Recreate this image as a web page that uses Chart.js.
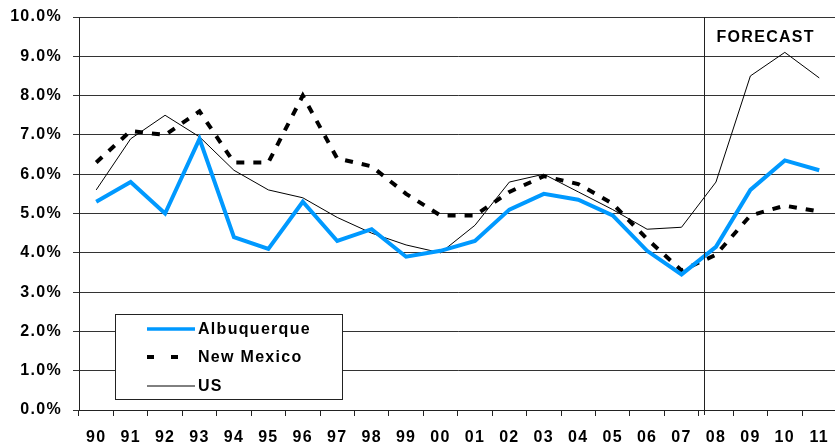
<!DOCTYPE html>
<html>
<head>
<meta charset="utf-8">
<script src="https://cdn.jsdelivr.net/npm/chart.js@4/dist/chart.umd.min.js"></script>
<style>
  html, body { margin: 0; padding: 0; background: #fff; overflow: hidden; }
  #wrap { position: relative; width: 841px; height: 448px; }
</style>
</head>
<body>
<div id="wrap"><canvas id="chartCanvas"></canvas></div>
<script>
// 年份（類別）
var years = ['90', '91', '92', '93', '94', '95', '96', '97', '98', '99', '00',
             '01', '02', '03', '04', '05', '06', '07', '08', '09', '10', '11'];

// 失業率 (%)
var albuquerque = [5.3, 5.8, 5.0, 6.9, 4.4, 4.1, 5.3, 4.3, 4.6, 3.9, 4.05,
                   4.3, 5.1, 5.5, 5.35, 4.95, 4.05, 3.45, 4.15, 5.6, 6.35, 6.1];
var newMexico   = [6.3, 7.1, 7.0, 7.6, 6.3, 6.3, 8.0, 6.4, 6.2, 5.5, 4.95,
                   4.95, 5.55, 5.95, 5.75, 5.25, 4.35, 3.55, 3.95, 4.95, 5.2, 5.05];
var us          = [5.6, 6.9, 7.5, 6.95, 6.1, 5.6, 5.4, 4.9, 4.5, 4.2, 4.0,
                   4.7, 5.8, 6.0, 5.55, 5.1, 4.6, 4.65, 5.8, 8.5, 9.1, 8.45];

var yTicks = [0, 1, 2, 3, 4, 5, 6, 7, 8, 9, 10];
var forecastAt = 17.66;   // 07 與 08 之間
var forecastLabel = 'FORECAST';

var FONT = 'Liberation Sans, Arial, sans-serif';
var SPACING = '1.3px';

function setSpacing(chart) {
  if ('letterSpacing' in chart.ctx) chart.ctx.letterSpacing = SPACING;
}

// 字距 + 預測線 + 圖例
var decorPlugin = {
  id: 'decor',
  beforeLayout: function(chart) { setSpacing(chart); },
  beforeDraw: function(chart) { setSpacing(chart); },
  afterDraw: function(chart) {
    var ctx = chart.ctx;
    var area = chart.chartArea;
    var xs = chart.scales.x;
    var i0 = Math.floor(forecastAt);
    var p0 = xs.getPixelForValue(i0);
    var p1 = xs.getPixelForValue(i0 + 1);
    var fx = Math.round(p0 + (p1 - p0) * (forecastAt - i0)) + 0.5;

    ctx.save();
    setSpacing(chart);
    ctx.strokeStyle = '#222';
    ctx.lineWidth = 1;
    ctx.beginPath();
    ctx.moveTo(fx, area.top);
    ctx.lineTo(fx, area.bottom + 5);
    ctx.stroke();

    ctx.fillStyle = '#000';
    ctx.font = 'bold 16px ' + FONT;
    ctx.textAlign = 'left';
    ctx.textBaseline = 'middle';
    ctx.fillText(forecastLabel, fx + 12, 38);

    // 圖例
    var bx = 115.5, by = 314.5, bw = 227, bh = 85;
    ctx.fillStyle = '#fff';
    ctx.fillRect(bx, by, bw, bh);
    ctx.strokeStyle = '#222';
    ctx.lineWidth = 1;
    ctx.strokeRect(bx, by, bw, bh);

    var rowsY = [329, 357, 386];
    chart.data.datasets.forEach(function(ds, i) {
      var y = rowsY[i];
      ctx.save();
      ctx.strokeStyle = ds.borderColor;
      ctx.lineWidth = i === 0 ? 3.5 : ds.borderWidth;
      if (i === 1) ctx.setLineDash([7, 17]);
      ctx.beginPath();
      ctx.moveTo(147, y);
      ctx.lineTo(i === 1 ? 180 : 195, y);
      ctx.stroke();
      ctx.restore();
      ctx.fillStyle = '#000';
      ctx.fillText(ds.label, 198, y + 1);
    });
    ctx.restore();
  }
};

var ctx = document.getElementById('chartCanvas').getContext('2d');
new Chart(ctx, {
  type: 'line',
  data: {
    labels: years,
    datasets: [
      { label: 'Albuquerque', data: albuquerque, borderColor: '#0099ff', borderWidth: 4,
        pointRadius: 0, tension: 0, fill: false },
      { label: 'New Mexico', data: newMexico, borderColor: '#000', borderWidth: 4,
        borderDash: [8, 9], pointRadius: 0, tension: 0, fill: false },
      { label: 'US', data: us, borderColor: '#000', borderWidth: 1,
        pointRadius: 0, tension: 0, fill: false }
    ]
  },
  options: {
    responsive: true,
    maintainAspectRatio: false,
    animation: false,
    layout: { padding: { top: 17, right: 0, left: 0, bottom: 0 } },
    plugins: {
      legend: { display: false },
      tooltip: { enabled: false }
    },
    scales: {
      x: {
        offset: true,
        grid: { offset: true, drawOnChartArea: false, tickLength: 6, color: '#222' },
        border: { color: '#222' },
        ticks: {
          autoSkip: false, maxRotation: 0, padding: 12, color: '#000',
          font: { family: FONT, size: 16, weight: 'bold' }
        },
        afterFit: function(s) { s.height = 38; }
      },
      y: {
        min: 0, max: 10,
        afterBuildTicks: function(s) { s.ticks = yTicks.map(function(v) { return { value: v }; }); },
        grid: { color: '#333', tickLength: 6 },
        border: { color: '#222' },
        ticks: {
          padding: 11, color: '#000',
          font: { family: FONT, size: 16, weight: 'bold' },
          callback: function(v) { return v.toFixed(1) + '%'; }
        },
        afterFit: function(s) {
          s.width = 79;
          // 不讓刻度標籤把繪圖區往下推
          s.paddingTop = 0;
          s.paddingBottom = 0;
        }
      }
    }
  },
  plugins: [decorPlugin]
});
</script>
</body>
</html>
